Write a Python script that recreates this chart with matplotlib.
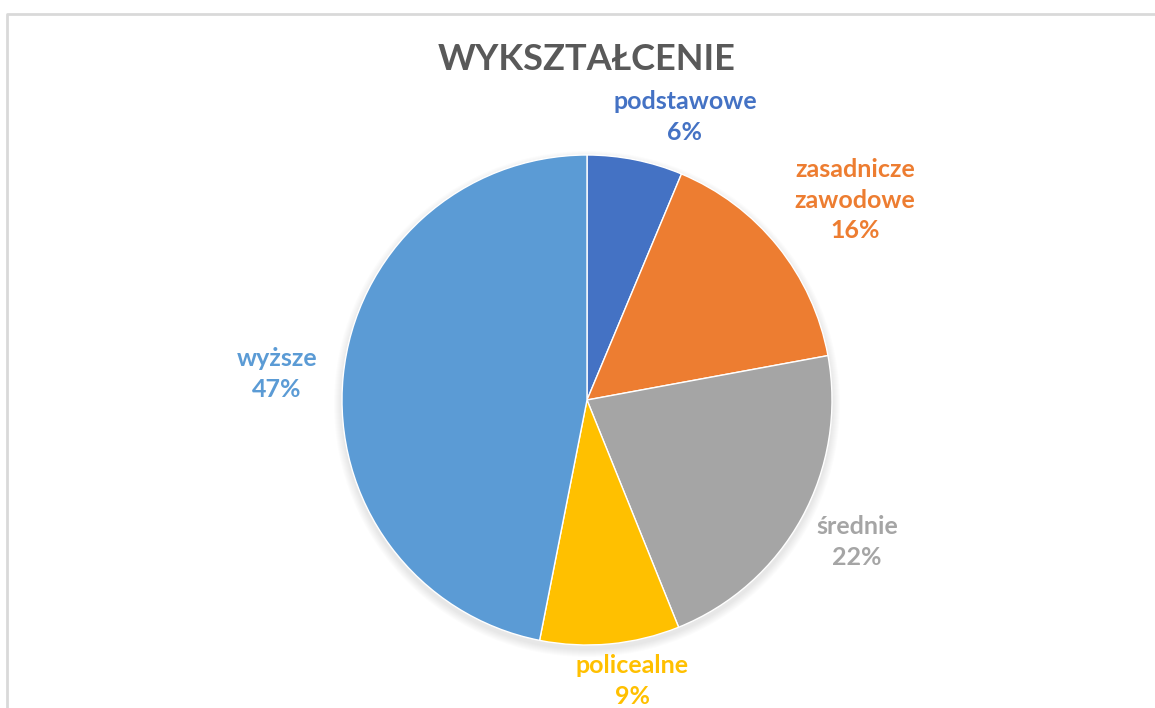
import matplotlib.pyplot as plt
import numpy as np
from matplotlib.patches import Circle

plt.rcParams["font.family"] = ["Lato", "DejaVu Sans"]

# Data
categories = ["podstawowe", "zasadnicze\nzawodowe", "średnie", "policealne", "wyższe"]
shares = [6.3, 15.8, 21.8, 9.2, 46.9]
shown_pct = ["6%", "16%", "22%", "9%", "47%"]
colors = ["#4472C4", "#ED7D31", "#A5A5A5", "#FFC000", "#5B9BD5"]

W, H = 1155, 708
cx, cy, r = 587, H - 400, 245

fig = plt.figure(figsize=(W / 100, H / 100), dpi=100)
ax = fig.add_axes([0, 0, 1, 1])

# soft shadow under the pie
for k in range(8):
    ax.add_patch(Circle((cx, cy - 4), r + 8 - k, color="black", alpha=0.012, lw=0, zorder=0))

wedges, _ = ax.pie(shares, colors=colors, startangle=90, counterclock=False,
                   center=(cx, cy), radius=r,
                   wedgeprops=dict(linewidth=1.0, edgecolor="white"))
for w in wedges:
    w.set_zorder(2)

ax.set_xlim(0, W)
ax.set_ylim(0, H)
ax.axis("off")

# frame of the chart area (cropped at right/bottom)
ax.plot([7, 7, W], [0, H - 14, H - 14], color="#D9D9D9", lw=2, zorder=1)

ax.text(cx, H - 60, "WYKSZTAŁCENIE", ha="center", va="center",
        fontsize=26, fontweight="bold", color="#595959")

# label offsets from pie centre (pixels, y down)
label_pos = [(98, -283), (268, -200), (270, 142), (45, 281), (-310, -26)]
for name, pct, col, (dx, dy) in zip(categories, shown_pct, colors, label_pos):
    ax.text(cx + dx, cy - dy, name + "\n" + pct, ha="center", va="center",
            fontsize=18, fontweight="bold", color=col, linespacing=1.42)

fig.savefig("out.png", dpi=100)
